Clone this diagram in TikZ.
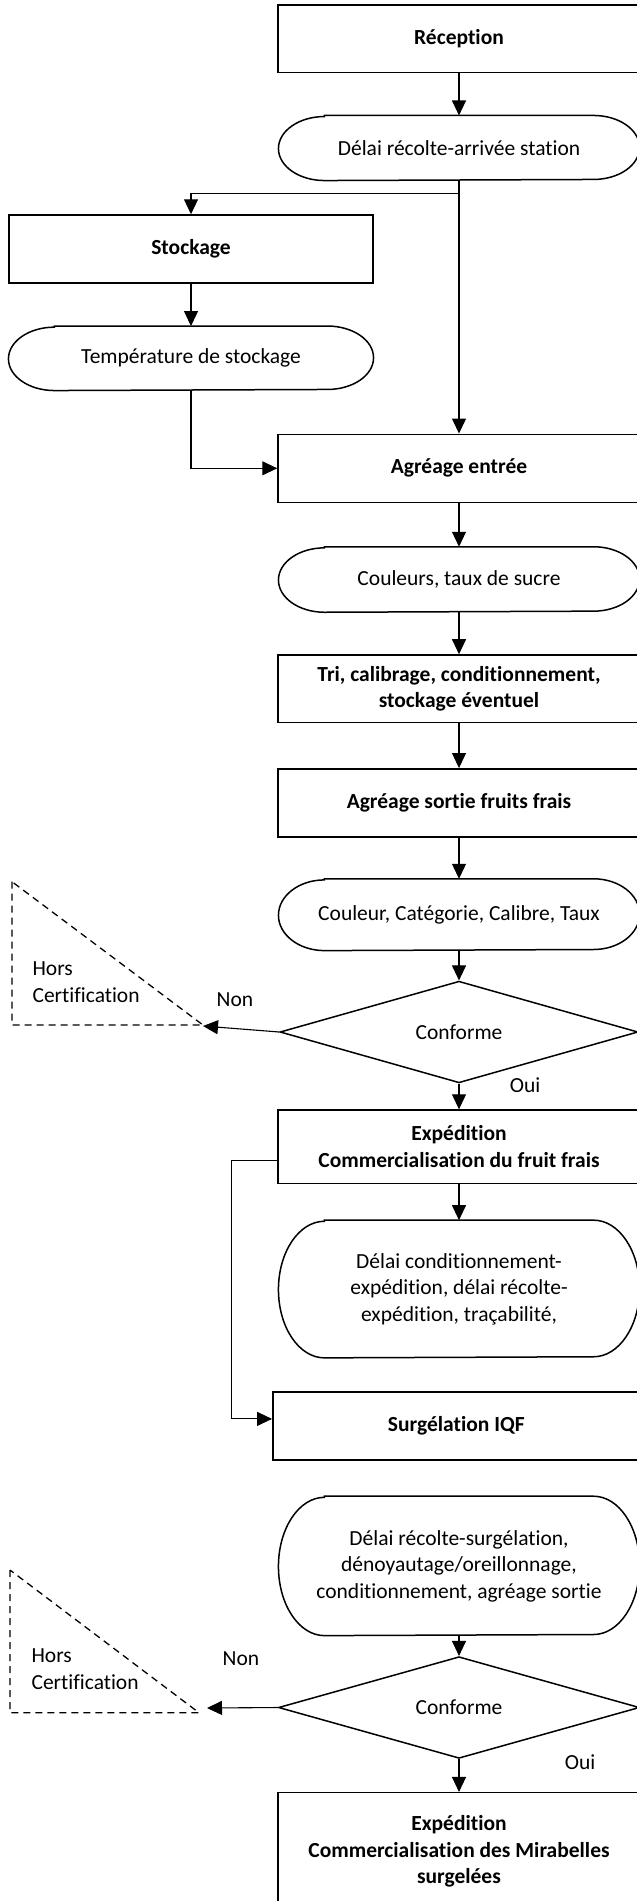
\documentclass[tikz,border=0pt]{standalone}
\usepackage{fontspec}
\setmainfont{Carlito}[Ligatures=NoCommon]
\usetikzlibrary{arrows.meta,shapes.geometric}

\tikzset{every picture/.style={line width=1.1pt}}

\begin{document}
\begin{tikzpicture}[x=1pt,y=1pt,yscale=-1,xscale=1,
	font=\fontsize{21.5}{26.5}\selectfont,
	boite/.style={draw,line width=1.5pt,inner sep=0pt,align=center,font=\fontsize{21.5}{26.5}\selectfont\bfseries},
	terminal/.style={inner sep=0pt,align=center},
	losange/.style={draw,diamond,line width=1.5pt,inner sep=0pt},
	fleche/.style={-{Triangle[width=14pt,length=15pt]}},
	contour/.style={line width=1.5pt},
	tirets/.style={line width=1.3pt,dash pattern=on 7pt off 5pt}]
	\useasboundingbox (0,0) rectangle (637,1901);
	\clip (0,0) rectangle (637,1901);

	%Shape: Rectangle
	\node[boite,minimum width=362pt,minimum height=67.7pt] (recep) at (459,38.8) {Réception};
	%Shape: Terminator
	\node[terminal,minimum width=360pt,minimum height=64pt] (delai1) at (459,148) {Délai récolte-arrivée station};
	%Shape: Rectangle
	\node[boite,minimum width=364pt,minimum height=68pt] (stock) at (191,249) {Stockage};
	%Shape: Terminator
	\node[terminal,minimum width=364pt,minimum height=63.4pt] (temp) at (191,358.3) {Température de stockage};
	%Shape: Rectangle
	\node[boite,minimum width=362pt,minimum height=68pt] (agre1) at (459,468.3) {Agréage entrée};
	%Shape: Terminator
	\node[terminal,minimum width=360pt,minimum height=64.4pt] (coul1) at (459,579.5) {Couleurs, taux de sucre};
	%Shape: Rectangle
	\node[boite,minimum width=362pt,minimum height=67.7pt] (tri) at (459,688.8) {Tri, calibrage, conditionnement,\\stockage éventuel};
	%Shape: Rectangle
	\node[boite,minimum width=362pt,minimum height=68pt] (agre2) at (459,802.8) {Agréage sortie fruits frais};
	%Shape: Terminator
	\node[terminal,minimum width=360pt,minimum height=70.7pt] (coul2) at (459,914.7) {Couleur, Catégorie, Calibre, Taux};
	%Shape: Decision
	\node[losange,minimum width=358pt,minimum height=86pt] (conf1) at (459,1032) {Conforme};
	%Shape: Rectangle
	\node[boite,minimum width=362pt,minimum height=73.3pt] (exped1) at (459,1146.7) {Expédition\\Commercialisation du fruit frais};
	%Shape: Terminator
	\node[terminal,minimum width=360pt,minimum height=136.6pt] (delai2) at (459,1289) {Délai conditionnement-\\expédition, délai récolte-\\expédition, traçabilité,};
	%Shape: Rectangle
	\node[boite,minimum width=367pt,minimum height=68.3pt] (surg) at (456.3,1425.9) {Surgélation IQF};
	%Shape: Terminator
	\node[terminal,minimum width=360pt,minimum height=138.3pt] (delai3) at (459,1565.9) {Délai récolte-surgélation,\\dénoyautage/oreillonnage,\\conditionnement, agréage sortie};
	%Shape: Decision
	\node[losange,minimum width=361pt,minimum height=81.6pt] (conf2) at (459,1707.5) {Conforme};
	%Shape: Rectangle
	\node[boite,minimum width=362pt,minimum height=118pt] (exped2) at (459,1851.7) {Expédition\\Commercialisation des Mirabelles\\surgelées};

	%Terminator outlines
	\foreach \n/\r in {delai1/32,temp/31.7,coul1/32.2,coul2/35.35,delai2/68.3,delai3/69.15}
		\draw[contour] ([xshift=46pt]\n.north west) -- ([xshift=-46pt]\n.north east) arc[start angle=-90,end angle=90,x radius=46,y radius=\r] -- ([xshift=46pt]\n.south west) arc[start angle=90,end angle=270,x radius=46,y radius=\r] -- cycle;

	%Shape: Triangle (dashed)
	\coordinate (hc1) at (203,1026);
	\draw[tirets] (12,881.7) -- (12,1025) -- (203,1025) -- cycle;
	\coordinate (hc2) at (207,1708);
	\draw[tirets] (10,1570) -- (10,1712.7) -- (199,1712.7) -- cycle;

	%Straight Lines
	\coordinate (fourche) at (459,193.3);
	\draw[fleche] (recep) -- (delai1);
	\draw (delai1.south) -- (fourche);
	\draw[fleche] (fourche) -- (agre1.north);
	\draw[fleche] (fourche) -| (stock.north);
	\draw[fleche] (stock) -- (temp);
	\draw[fleche] (temp.south) |- (agre1.west);
	\draw[fleche] (agre1) -- (coul1);
	\draw[fleche] (coul1) -- (tri);
	\draw[fleche] (tri) -- (agre2);
	\draw[fleche] (agre2) -- (coul2);
	\draw[fleche] (coul2) -- (conf1);
	\draw[fleche] (conf1.west) -- (hc1);
	\draw[fleche] (conf1) -- (exped1);
	\draw[fleche] (exped1) -- (delai2);
	\draw[fleche] ([yshift=13.5pt]exped1.west) -- ++(-45.5,0) |- ([yshift=-7pt]surg.west);
	\draw[fleche] (delai3) -- (conf2);
	\draw[fleche] (conf2.west) -- (hc2);
	\draw[fleche] (conf2) -- (exped2);

	% Text Node
	\node[anchor=west,align=left,inner sep=0pt] (hors1) at (32,982) {Hors\\Certification};
	% Text Node
	\node (non1) at (235,1000) {Non};
	% Text Node
	\node (oui1) at (525,1085) {Oui};
	% Text Node
	\node[anchor=west,align=left,inner sep=0pt] (hors2) at (31,1669) {Hors\\Certification};
	% Text Node
	\node (non2) at (241,1659) {Non};
	% Text Node
	\node (oui2) at (580,1762) {Oui};

\end{tikzpicture}
\end{document}
